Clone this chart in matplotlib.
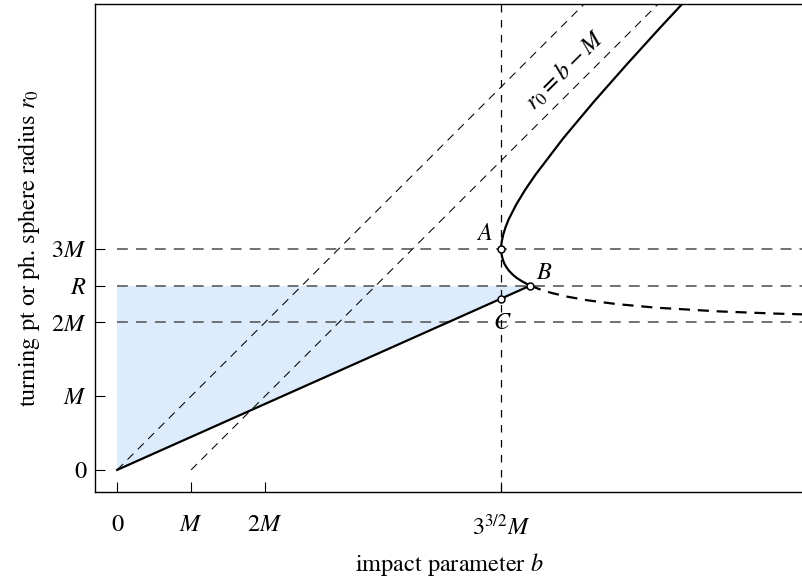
import numpy as np
import matplotlib
matplotlib.use("Agg")
import matplotlib.pyplot as plt

plt.rcParams['font.family'] = ['STIXGeneral', 'DejaVu Serif']
plt.rcParams['mathtext.fontset'] = 'stix'

# radii in units of M
R = 2.5
b_crit = 3 ** 1.5          # 3^{3/2} M

# turning-point curve, upper (solid) branch
upper_r0 = [2.5, 2.55, 2.6, 2.65, 2.7, 2.75, 2.8, 2.85, 2.9, 2.95, 3.0, 3.05, 3.1,
            3.2, 3.3, 3.4, 3.6, 3.8, 4.0, 4.5, 5.0, 5.5, 6.0, 6.5]
upper_b = [5.590, 5.491, 5.412, 5.351, 5.303, 5.266, 5.238, 5.219, 5.206, 5.198, 5.196,
           5.198, 5.204, 5.226, 5.258, 5.298, 5.400, 5.521, 5.657, 6.037, 6.455,
           6.895, 7.348, 7.812]

# lower (dashed) branch, approaching 2M
lower_r0 = [2.5, 2.45, 2.4, 2.35, 2.3, 2.25, 2.2, 2.15, 2.12, 2.1]
lower_b = [5.590, 5.717, 5.879, 6.089, 6.368, 6.750, 7.297, 8.140, 8.911, 9.623]

# straight line from origin to B
line_b = [0.0, 5.590]
line_r0 = [0.0, 2.5]

# labelled points
pt_names = ['A', 'B', 'C']
pt_b = [b_crit, 5.590, b_crit]
pt_r0 = [3.0, 2.5, 2.324]

xticks = [0, 1, 2, b_crit]
xticklabels = ['0', '$M$', '$2M$', '$3^{3/2}M$']
yticks = [0, 1, 2, R, 3]
yticklabels = ['0', '$M$', '$2M$', '$R$', '$3M$']

xmin, xmax = -0.30, 9.28
ymin, ymax = -0.30, 6.32

fs = 17.5

fig = plt.figure(figsize=(8.03, 5.84), dpi=100)
ax = fig.add_axes([95 / 803, 92 / 584, 708 / 803, 488 / 584])

# shaded triangle
ax.fill([0, 0, 5.590], [0, R, R], color='#ddecfc', lw=0, zorder=0)

# horizontal guides
for y in [2, R, 3]:
    ax.plot([0, xmax], [y, y], color='#666666', lw=1.3, dashes=(6, 4.5), zorder=1)
# vertical guide
ax.plot([b_crit, b_crit], [ymin, ymax], color='black', lw=0.9, dashes=(6, 6), zorder=1)
# diagonals r0 = b and r0 = b - M
ax.plot([0, ymax], [0, ymax], color='black', lw=0.75, dashes=(8, 6), zorder=1)
ax.plot([1, ymax + 1], [0, ymax], color='black', lw=0.75, dashes=(8, 6), zorder=1)

ax.plot(upper_b, upper_r0, color='black', lw=1.6, zorder=2)
ax.plot(lower_b, lower_r0, color='black', lw=1.6, dashes=(5, 3.5), zorder=2)
ax.plot(line_b, line_r0, color='black', lw=1.6, zorder=2)

ax.plot(pt_b, pt_r0, 'o', ms=5, mfc='white', mec='black', mew=1.1, zorder=3)
ax.text(pt_b[0] - 0.12, pt_r0[0] + 0.05, 'A', style='italic', fontsize=fs,
        ha='right', va='bottom')
ax.text(pt_b[1] + 0.08, pt_r0[1] + 0.02, 'B', style='italic', fontsize=fs,
        ha='left', va='bottom')
ax.text(pt_b[2], pt_r0[2] - 0.18, 'C', style='italic', fontsize=fs,
        ha='center', va='top')

ax.text(6.06, 5.42, '$r_0 = b - M$', fontsize=fs, rotation=45,
        ha='center', va='center', rotation_mode='anchor')

ax.set_xlim(xmin, xmax)
ax.set_ylim(ymin, ymax)
ax.set_xticks(xticks)
ax.set_xticklabels(xticklabels)
ax.set_yticks(yticks)
ax.set_yticklabels(yticklabels)
ax.tick_params(direction='in', length=7, width=0.8, labelsize=fs)
ax.tick_params(axis='x', pad=16)
ax.tick_params(axis='y', pad=6)
ax.spines['right'].set_visible(False)
for s in ['left', 'bottom', 'top']:
    ax.spines[s].set_linewidth(1.0)

ax.set_xlabel('impact parameter $b$', fontsize=fs, labelpad=8)
ax.set_ylabel('turning pt or ph. sphere radius $r_0$', fontsize=fs, labelpad=7)

fig.savefig('out.png', dpi=100)
